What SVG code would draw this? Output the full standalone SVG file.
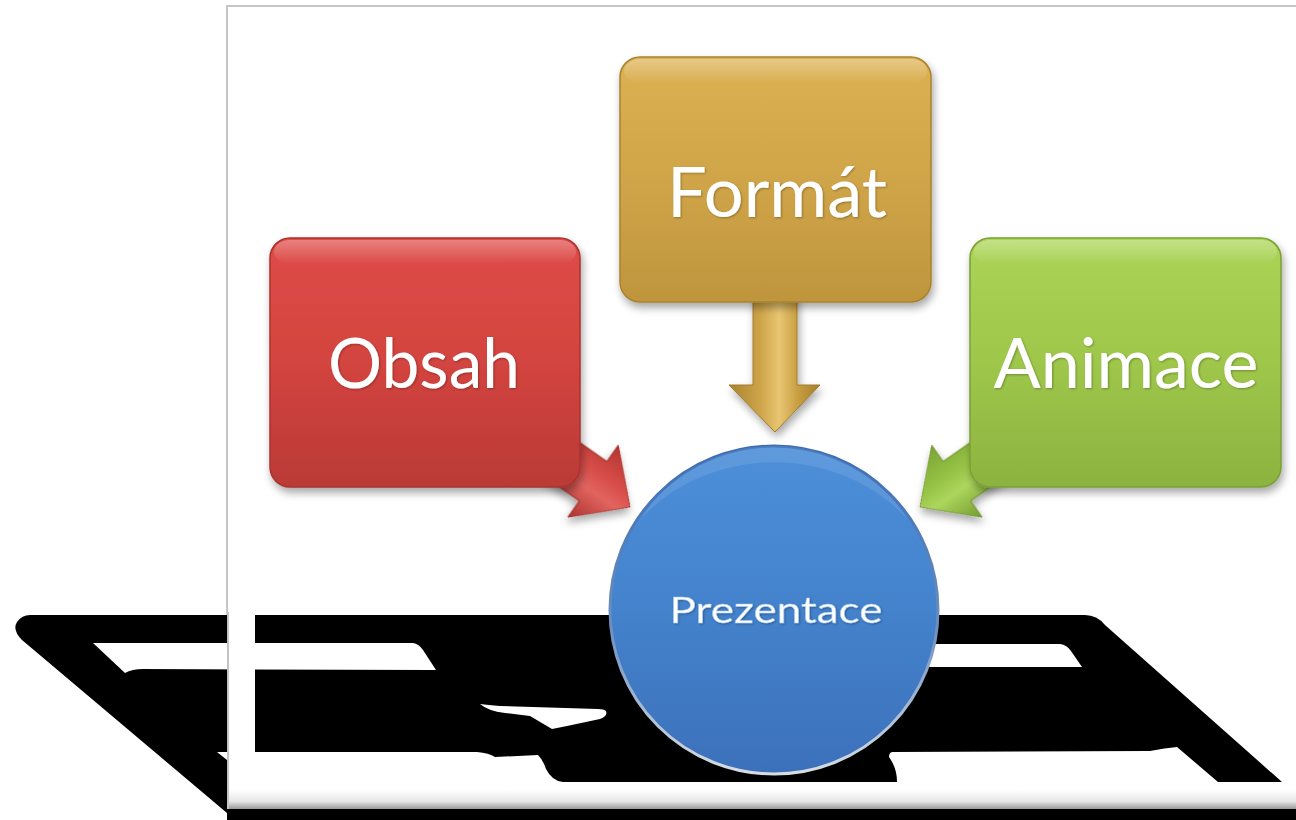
<svg xmlns="http://www.w3.org/2000/svg" width="1296" height="820" viewBox="0 0 1296 820">
  <defs>
    <style>
      .lbl { font-family: "Lato", "Open Sans", "Liberation Sans", sans-serif; fill: #ffffff; text-anchor: middle; }
      .big { font-size: 70px; }
      .small { font-size: 36px; }
      .blk { fill: #000000; }
      .hole { fill: #ffffff; }
    </style>
    <filter id="sh" x="-15%" y="-15%" width="135%" height="140%">
      <feGaussianBlur in="SourceAlpha" stdDeviation="4"/>
      <feOffset dx="2" dy="5" result="b"/>
      <feComponentTransfer><feFuncA type="linear" slope="0.35"/></feComponentTransfer>
      <feMerge><feMergeNode/><feMergeNode in="SourceGraphic"/></feMerge>
    </filter>
    <filter id="tsh" x="-10%" y="-20%" width="120%" height="150%">
      <feGaussianBlur in="SourceAlpha" stdDeviation="1"/>
      <feOffset dx="0.8" dy="1.2"/>
      <feComponentTransfer><feFuncA type="linear" slope="0.3"/></feComponentTransfer>
      <feMerge><feMergeNode/><feMergeNode in="SourceGraphic"/></feMerge>
    </filter>
    <linearGradient id="gRed" x1="0" y1="0" x2="0" y2="1">
      <stop offset="0" stop-color="#df4c48"/>
      <stop offset="0.5" stop-color="#d3443f"/>
      <stop offset="1" stop-color="#ba3a36"/>
    </linearGradient>
    <linearGradient id="gGold" x1="0" y1="0" x2="0" y2="1">
      <stop offset="0" stop-color="#dcb153"/>
      <stop offset="0.5" stop-color="#d0a548"/>
      <stop offset="1" stop-color="#bf953d"/>
    </linearGradient>
    <linearGradient id="gGreen" x1="0" y1="0" x2="0" y2="1">
      <stop offset="0" stop-color="#acd456"/>
      <stop offset="0.5" stop-color="#9ec74b"/>
      <stop offset="1" stop-color="#8cb33f"/>
    </linearGradient>
    <linearGradient id="gBlue" x1="0" y1="0" x2="0" y2="1">
      <stop offset="0" stop-color="#4d8fda"/>
      <stop offset="0.5" stop-color="#4482cc"/>
      <stop offset="1" stop-color="#3c71ba"/>
    </linearGradient>
    <linearGradient id="gRim" x1="0" y1="0" x2="0" y2="1">
      <stop offset="0" stop-color="#3a6cb4"/>
      <stop offset="0.55" stop-color="#6c8fbf"/>
      <stop offset="1" stop-color="#d8dde4"/>
    </linearGradient>
    <linearGradient id="gHi" x1="0" y1="0" x2="0" y2="1">
      <stop offset="0" stop-color="#ffffff" stop-opacity="0.3"/>
      <stop offset="1" stop-color="#ffffff" stop-opacity="0"/>
    </linearGradient>
    <linearGradient id="gArrGold" x1="0" y1="0" x2="1" y2="0">
      <stop offset="0" stop-color="#a9832f"/>
      <stop offset="0.35" stop-color="#cfa54a"/>
      <stop offset="0.55" stop-color="#e8c672"/>
      <stop offset="0.75" stop-color="#c99f44"/>
      <stop offset="1" stop-color="#a47e2d"/>
    </linearGradient>
    <linearGradient id="gArrRed" x1="0" y1="0" x2="0" y2="1">
      <stop offset="0" stop-color="#b3352f"/>
      <stop offset="0.4" stop-color="#d94e4a"/>
      <stop offset="0.6" stop-color="#e2645f"/>
      <stop offset="1" stop-color="#a9322e"/>
    </linearGradient>
    <linearGradient id="gArrGreen" x1="0" y1="0" x2="0" y2="1">
      <stop offset="0" stop-color="#7ba335"/>
      <stop offset="0.4" stop-color="#97c446"/>
      <stop offset="0.6" stop-color="#acd65c"/>
      <stop offset="1" stop-color="#749a31"/>
    </linearGradient>
    <linearGradient id="gBevel" x1="0" y1="0" x2="0" y2="1">
      <stop offset="0" stop-color="#ffffff"/>
      <stop offset="0.6" stop-color="#e6e6e6"/>
      <stop offset="1" stop-color="#9a9a9a"/>
    </linearGradient>
  </defs>

  <rect x="0" y="0" width="1296" height="820" fill="#ffffff"/>

  <!-- slide panel frame -->
  <g id="panel">
    <path d="M227,810 L227,6 L1296,6" fill="none" stroke="#c6c6c6" stroke-width="2"/>
  </g>

  <!-- black reflection / shadow shape -->
  <g id="reflection">
    <path class="blk" d="M30,615 L1085,615 Q1097,615 1105,625 L1282,782 L227,782 L227,813 L22,640 Q12,630 17,622 Q22,615 30,615 Z"/>
    <rect class="blk" x="227" y="809" width="1069" height="11"/>
    <path class="hole" d="M93,643 L413,643 Q419,644 423,650 L436,670 L143,669 Q132,669 125,673 Z"/>
    <path class="hole" d="M900,644 L1060,644 Q1067,645 1071,651 L1082,667 L900,667 Z"/>
    <path class="hole" d="M480,704 Q488,711 505,713 L530,716 L552,729 L567,726 L600,719 Q608,716 606,711 Q604,709 598,709 L500,706 Q488,705 480,704 Z"/>
    <path class="hole" d="M217,752 L477,752 Q489,753 495,757 L538,755 Q543,760 546,769 Q552,781 563,782 L600,782 L600,795 L227,795 L227,760 Z"/>
    <path class="hole" d="M893,752 L1150,751 Q1165,748 1177,747 L1218,782 L897,782 Q897,768 889,757 Q889,752 893,752 Z"/>
    <!-- panel border strips over the reflection -->
    <rect x="227" y="612" width="28" height="178" fill="#ffffff"/>
    <rect x="227" y="782" width="1069" height="10" fill="#ffffff"/>
    <path d="M227,790 L1296,790 L1296,809 L227,809 Z" fill="url(#gBevel)"/>
    <line x1="228" y1="612" x2="228" y2="809" stroke="#c4c4c4" stroke-width="2"/>
  </g>

  <!-- connectors -->
  <g id="connectors">
    <path d="M753,290 L797,290 L797,385 L820,385 L775,432 L729,385 L753,385 Z" fill="url(#gArrGold)" stroke="#a27c2c" stroke-width="1" filter="url(#sh)"/>
    <g transform="translate(630,507) rotate(35)">
      <path d="M0,0 L-45,-44 L-45,-24 L-190,-24 L-190,24 L-45,24 L-45,44 Z" fill="url(#gArrRed)" stroke="#9e2f2b" stroke-width="1" filter="url(#sh)"/>
    </g>
    <g transform="translate(920,507) scale(-1,1) rotate(35)">
      <path d="M0,0 L-45,-44 L-45,-24 L-190,-24 L-190,24 L-45,24 L-45,44 Z" fill="url(#gArrGreen)" stroke="#6e922f" stroke-width="1" filter="url(#sh)"/>
    </g>
  </g>

  <!-- nodes -->
  <g id="node-obsah">
    <rect x="270" y="238" width="310" height="249" rx="20" fill="url(#gRed)" stroke="#a9332f" stroke-width="1.5" filter="url(#sh)"/>
    <rect x="274" y="240" width="302" height="24" rx="16" fill="url(#gHi)"/>
    <text class="lbl big" x="424" y="388" textLength="192" lengthAdjust="spacingAndGlyphs" filter="url(#tsh)">Obsah</text>
  </g>

  <g id="node-format">
    <rect x="620" y="57" width="311" height="245" rx="20" fill="url(#gGold)" stroke="#a8822f" stroke-width="1.5" filter="url(#sh)"/>
    <rect x="624" y="59" width="303" height="24" rx="16" fill="url(#gHi)"/>
    <text class="lbl big" x="777" y="217" textLength="220" lengthAdjust="spacingAndGlyphs" filter="url(#tsh)">Formát</text>
  </g>

  <g id="node-animace">
    <rect x="970" y="238" width="311" height="249" rx="20" fill="url(#gGreen)" stroke="#7b9f37" stroke-width="1.5" filter="url(#sh)"/>
    <rect x="974" y="240" width="303" height="24" rx="16" fill="url(#gHi)"/>
    <text class="lbl big" x="1126" y="388" textLength="265" lengthAdjust="spacingAndGlyphs" filter="url(#tsh)">Animace</text>
  </g>

  <g id="node-prezentace">
    <circle cx="774" cy="610" r="164" fill="url(#gBlue)" stroke="url(#gRim)" stroke-width="3"/>
    <path d="M640,520 A158,158 0 0 1 908,520 A170,150 0 0 0 640,520 Z" fill="#ffffff" fill-opacity="0.1"/>
    <text class="lbl small" x="776" y="623" textLength="213" lengthAdjust="spacingAndGlyphs" fill="#f4f8fc" stroke="#9cc6ee" stroke-width="0.5" filter="url(#tsh)">Prezentace</text>
  </g>
</svg>
